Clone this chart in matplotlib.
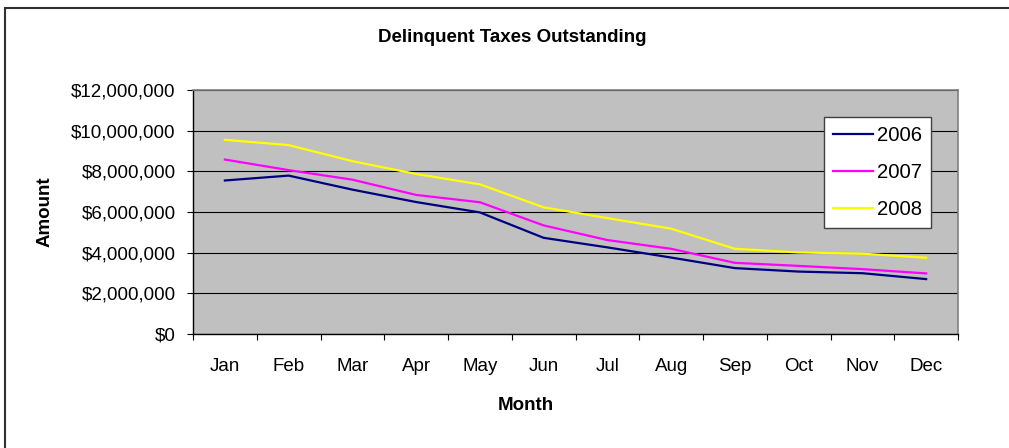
import matplotlib.pyplot as plt
import matplotlib.patches as patches
from matplotlib.ticker import FuncFormatter, FixedLocator
import numpy as np

plt.rcParams['font.family'] = ['Liberation Sans', 'DejaVu Sans']

# Data
months = ['Jan', 'Feb', 'Mar', 'Apr', 'May', 'Jun',
          'Jul', 'Aug', 'Sep', 'Oct', 'Nov', 'Dec']
taxes_2006 = [7550000, 7790000, 7100000, 6490000, 5980000, 4730000,
              4260000, 3760000, 3240000, 3070000, 2990000, 2700000]
taxes_2007 = [8580000, 8060000, 7590000, 6840000, 6480000, 5340000,
              4620000, 4190000, 3500000, 3350000, 3190000, 2980000]
taxes_2008 = [9550000, 9290000, 8500000, 7870000, 7360000, 6230000,
              5700000, 5180000, 4190000, 4010000, 3950000, 3750000]

W, H = 1009, 448
fig = plt.figure(figsize=(W / 100, H / 100), dpi=100, facecolor='white')
ax = fig.add_axes([193 / W, 1 - 334 / H, (958 - 193) / W, (334 - 90) / H])
ax.set_facecolor('#C0C0C0')

x = np.arange(len(months)) + 0.5
ax.plot(x, taxes_2006, color='#000080', lw=1.6, label='2006')
ax.plot(x, taxes_2007, color='#FF00FF', lw=1.6, label='2007')
ax.plot(x, taxes_2008, color='#FFFF00', lw=1.6, label='2008')

ax.set_xlim(0, len(months))
ax.set_ylim(0, 12000000)
ax.set_yticks(np.arange(0, 12000001, 2000000))
ax.yaxis.set_major_formatter(FuncFormatter(lambda v, p: '${:,.0f}'.format(v)))

# tick marks between categories, labels at the centres
ax.xaxis.set_major_locator(FixedLocator(np.arange(0, len(months) + 1)))
ax.xaxis.set_minor_locator(FixedLocator(x))
ax.set_xticklabels([], minor=False)
ax.set_xticklabels(months, minor=True)
ax.tick_params(axis='x', which='major', direction='out', length=4.5, width=0.8, color='black')
ax.tick_params(axis='x', which='minor', length=0, pad=17, labelsize=13.5)
ax.tick_params(axis='y', direction='out', length=4.5, width=0.8, pad=8, labelsize=13.5)

ax.grid(axis='y', color='black', lw=0.8)
ax.set_axisbelow(True)
for side in ['top', 'right']:
    ax.spines[side].set_color('#808080')
    ax.spines[side].set_linewidth(1.2)
for side in ['left', 'bottom']:
    ax.spines[side].set_color('black')
    ax.spines[side].set_linewidth(1.0)

leg = ax.legend(loc='upper left', bbox_to_anchor=(824 / W, 1 - 117 / H),
                bbox_transform=fig.transFigure, fontsize=14.6, frameon=True,
                fancybox=False, borderpad=0.45, labelspacing=0.88,
                handlelength=1.95, handletextpad=0.2, borderaxespad=0)
leg.get_frame().set_edgecolor('#404040')
leg.get_frame().set_linewidth(1.0)
leg.get_frame().set_facecolor('white')
leg.get_frame().set_alpha(1)

fig.text(512 / W, 1 - 37 / H, 'Delinquent Taxes Outstanding', ha='center', va='center',
         fontsize=13.5, fontweight='bold')
fig.text(526 / W, 1 - 405 / H, 'Month', ha='center', va='center',
         fontsize=13.5, fontweight='bold')
fig.text(45 / W, 1 - 212 / H, 'Amount', ha='center', va='center', rotation=90,
         fontsize=13.5, fontweight='bold')

# outer chart border (cut off at right and bottom)
fig.patches.append(patches.Rectangle((5 / W, -0.1), 1.2, 1.1 - 8 / H,
                                     transform=fig.transFigure, fill=False,
                                     edgecolor='#303030', lw=1.5, clip_on=False))

fig.savefig('out.png', dpi=100)
